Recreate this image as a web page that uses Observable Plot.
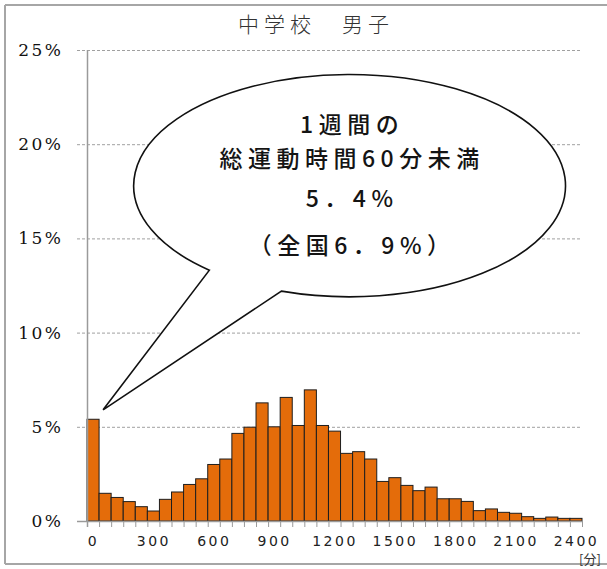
<!DOCTYPE html>
<html><head><meta charset="utf-8">
<script src="https://cdn.jsdelivr.net/npm/d3@7"></script>
<script src="https://cdn.jsdelivr.net/npm/@observablehq/plot@0.6"></script>
<style>
html,body{margin:0;padding:0;background:#fff;}
#chart{position:relative;width:607px;height:569px;}
g[aria-label="y-axis tick label"] text{font-family:"DejaVu Serif","Liberation Serif",serif !important;font-size:17px !important;letter-spacing:2.5px;fill:#111;}
g[aria-label="x-axis tick label"] text{font-family:"DejaVu Sans",sans-serif !important;font-size:14px !important;letter-spacing:2.5px;fill:#222;}
</style></head><body><div id="chart"></div>
<script>
const title = "中学校　男子";
const bins = [0,60,120,180,240,300,360,420,480,540,600,660,720,780,840,900,960,1020,1080,1140,1200,1260,1320,1380,1440,1500,1560,1620,1680,1740,1800,1860,1920,1980,2040,2100,2160,2220,2280,2340,2400];
const shares = [5.4,1.47,1.25,1.03,0.76,0.53,1.15,1.54,1.94,2.24,3.0,3.29,4.65,4.98,6.27,5.0,6.56,5.07,6.96,5.07,4.77,3.59,3.68,3.29,2.1,2.3,1.89,1.61,1.8,1.18,1.18,1.04,0.55,0.64,0.46,0.41,0.23,0.14,0.21,0.14,0.14];
const yTicks = [0,5,10,15,20,25];
const xTickLabels = [0,300,600,900,1200,1500,1800,2100,2400];
const unitLabel = "[分]";
const calloutLines = ["1週間の","総運動時間60分未満","5．4%","（全国6．9%）"];

const half = 30; // half bin width in minutes
const rows = bins.map((b,i)=>({min:b, share:shares[i]}));
const boundaries = bins.map(b=>b-half).concat([bins[bins.length-1]+half]);

const plot = Plot.plot({
  width:607, height:569,
  marginLeft:87, marginRight:25, marginTop:50, marginBottom:48,
  x:{domain:[bins[0]-half, bins[bins.length-1]+half]},
  y:{domain:[0,25]},
  style:{background:"transparent", overflow:"visible"},
  marks:[
    Plot.ruleY(yTicks.filter(d=>d>0), {stroke:"#a0a0a0", strokeDasharray:"3,2", strokeWidth:1, insetLeft:-10}),
    Plot.rectY(rows, {x1:d=>d.min-half, x2:d=>d.min+half, y:"share", fill:"#e46c0a", stroke:"#1e1e1e", strokeWidth:1}),
    Plot.ruleY([0], {stroke:"#9a9a9a", strokeWidth:1.5, insetLeft:-10}),
    Plot.ruleX([bins[0]-half], {stroke:"#9a9a9a", strokeWidth:1.5, insetBottom:-6}),
    Plot.axisX(boundaries, {tickSize:6, tickFormat:()=>"", stroke:"#9a9a9a", label:null}),
    Plot.axisX(xTickLabels, {tickSize:0, tickPadding:15, tickFormat:d=>String(d), label:null}),
    Plot.axisY(yTicks, {tickSize:0, tickPadding:24, tickFormat:d=>d+"%", label:null})
  ]
});
document.getElementById("chart").appendChild(plot);

const svg = d3.select(plot);
const xs = plot.scale("x"), ys = plot.scale("y");
const X = v=>xs.apply(v), Y = v=>ys.apply(v);

// frame border
const border = svg.append("g").attr("stroke","#a6a6a6").attr("stroke-width",2);
border.append("line").attr("x1",5).attr("y1",5).attr("x2",607).attr("y2",5);
border.append("line").attr("x1",5).attr("y1",5).attr("x2",5).attr("y2",564);
border.append("line").attr("x1",5).attr("y1",564).attr("x2",607).attr("y2",564);

// title
svg.append("text").text(title)
  .attr("x",316).attr("y",23)
  .attr("text-anchor","middle").attr("dominant-baseline","central")
  .style("font-family","'Noto Sans CJK JP'").style("font-size","21px")
  .style("font-weight","300").style("letter-spacing","5px").attr("fill","#333");

// unit label
svg.append("text").text(unitLabel)
  .attr("x",X(2430)+8).attr("y",Y(0)+37)
  .attr("text-anchor","middle").attr("dominant-baseline","central")
  .style("font-family","'Noto Sans CJK JP'").style("font-size","13px").attr("fill","#333");

// callout bubble
const c = {x:1275, y:17.8, rx:1073, ry:5.9, tipX:50, tipY:5.9, a1:130.5, a2:108.4};
const cx=X(c.x), cy=Y(c.y), rx=X(c.x+c.rx)-cx, ry=cy-Y(c.y+c.ry);
const pt = a => [cx+rx*Math.cos(a*Math.PI/180), cy+ry*Math.sin(a*Math.PI/180)];
const A=pt(c.a1), B=pt(c.a2);
svg.append("path")
  .attr("d",`M${A[0]},${A[1]} A${rx},${ry} 0 1 1 ${B[0]},${B[1]} L${X(c.tipX)},${Y(c.tipY)} Z`)
  .attr("fill","#fff").attr("stroke","#111").attr("stroke-width",1.6).attr("stroke-linejoin","miter");

const lineY = [21.05,19.25,17.1,14.6];
const ct = svg.append("text")
  .attr("text-anchor","middle")
  .style("font-family","'Noto Sans CJK JP'").style("font-size","23px")
  .style("font-weight","500").style("letter-spacing","5.5px").attr("fill","#141414");
ct.selectAll("tspan").data(calloutLines).join("tspan")
  .text(d=>d)
  .attr("x",cx+2.5).attr("y",(d,i)=>Y(lineY[i]))
  .attr("dy","0.36em");
</script></body></html>
